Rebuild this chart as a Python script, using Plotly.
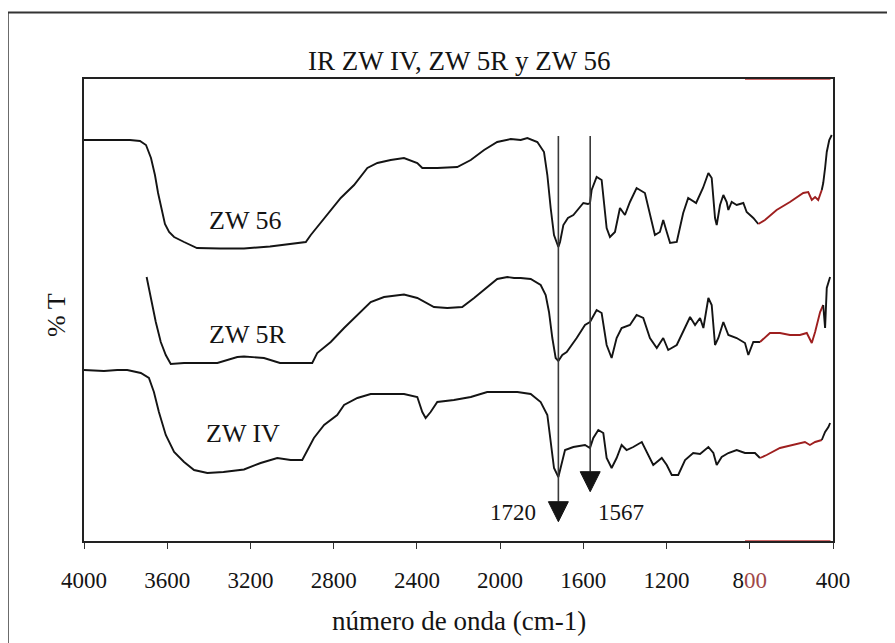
import plotly.graph_objects as go

# ---------------- data ----------------
TITLE = "IR ZW IV, ZW 5R y ZW 56"
X_TITLE = "número de onda (cm-1)"
Y_TITLE = "% T"
X_TICKS = [4000, 3600, 3200, 2800, 2400, 2000, 1600, 1200, 800, 400]
MARKED_BANDS = [1720, 1567]

wn_56 = [4000, 3779, 3731, 3702, 3678, 3659, 3644, 3625, 3611, 3591,
         3567, 3519, 3457, 3346, 3231, 3106, 2991, 2934, 2910, 2831,
         2766, 2702, 2638, 2590, 2526, 2462, 2398, 2374, 2302, 2206,
         2141, 2077, 2014, 1949, 1901, 1869, 1821, 1789, 1773, 1757,
         1741, 1720, 1712, 1696, 1674, 1648, 1600, 1578, 1568, 1560,
         1536, 1512, 1488, 1472, 1448, 1424, 1400, 1376, 1344, 1304,
         1280, 1256, 1232, 1216, 1199, 1183, 1151, 1120, 1096, 1087,
         1058, 1025, 999, 983, 967, 959, 943, 927, 911, 903,
         887, 863, 831, 815, 783, 759, 727, 671, 607, 543,
         519, 502, 486, 471, 454, 447, 438, 430, 418, 406]
t_56 = [40.1, 40.1, 40.0, 39.6, 38.3, 36.6, 34.8, 33.1, 31.7, 30.9,
        30.4, 29.9, 29.3, 29.25, 29.25, 29.45, 29.8, 29.9, 30.6, 32.6,
        34.3, 35.6, 37.3, 37.8, 38.1, 38.3, 37.8, 37.3, 37.3, 37.4,
        38.1, 39.1, 39.9, 40.2, 40.1, 40.3, 39.9, 38.9, 36.6, 33.3,
        30.6, 29.4, 29.9, 31.6, 32.3, 32.6, 33.8, 33.7, 33.8, 35.1,
        36.4, 36.1, 31.3, 30.4, 30.9, 33.3, 32.6, 33.9, 35.3, 34.8,
        32.6, 30.6, 30.9, 32.1, 30.9, 29.8, 29.9, 32.8, 34.3, 34.2,
        33.8, 35.3, 36.8, 36.3, 32.3, 31.6, 33.6, 34.6, 33.9, 33.1,
        33.9, 33.6, 33.8, 32.9, 32.3, 31.7, 32.1, 33.1, 33.9, 34.8,
        34.9, 34.1, 34.4, 34.1, 35.1, 35.8, 37.3, 38.9, 40.1, 40.6]

wn_5R = [3699, 3679, 3655, 3631, 3607, 3583, 3519, 3359, 3311, 3263,
         3231, 3186, 3135, 3058, 2986, 2903, 2879, 2814, 2750, 2686,
         2622, 2558, 2462, 2398, 2318, 2254, 2182, 2125, 2062, 2014,
         1965, 1933, 1901, 1853, 1805, 1781, 1765, 1749, 1733, 1720,
         1701, 1680, 1632, 1592, 1568, 1536, 1512, 1488, 1464, 1440,
         1416, 1376, 1344, 1312, 1280, 1247, 1216, 1192, 1151, 1103,
         1087, 1063, 1039, 1023, 999, 983, 967, 951, 927, 903,
         863, 823, 807, 783, 751, 703, 655, 607, 559, 526,
         502, 486, 462, 447, 438, 430, 414]
t_5R = [26.4, 24.3, 21.9, 19.9, 18.6, 17.7, 17.8, 17.8, 18.1, 18.4,
        18.45, 18.4, 18.3, 17.8, 17.8, 17.8, 18.8, 19.9, 21.3, 22.6,
        23.9, 24.4, 24.65, 24.3, 23.4, 23.3, 23.4, 24.3, 25.4, 26.2,
        26.4, 26.3, 26.3, 26.2, 25.6, 24.6, 22.9, 20.3, 18.3, 18.0,
        18.6, 18.9, 20.3, 21.6, 21.9, 23.1, 22.8, 19.6, 18.3, 20.3,
        21.3, 21.6, 22.6, 22.3, 20.3, 19.3, 20.3, 19.1, 19.6, 21.6,
        22.4, 21.6, 22.3, 21.3, 24.3, 23.6, 19.6, 20.3, 21.9, 20.6,
        20.3, 19.8, 18.6, 19.9, 19.9, 20.8, 20.8, 20.6, 20.6, 20.8,
        19.8, 20.9, 22.9, 23.6, 21.3, 25.3, 26.4]

wn_IV = [4000, 3904, 3840, 3792, 3727, 3688, 3664, 3640, 3607, 3567,
         3519, 3471, 3407, 3330, 3231, 3151, 3071, 3007, 2951, 2919,
         2895, 2846, 2783, 2750, 2686, 2622, 2462, 2398, 2374, 2358,
         2334, 2302, 2222, 2141, 2062, 1981, 1917, 1853, 1805, 1773,
         1757, 1741, 1720, 1707, 1688, 1648, 1592, 1568, 1552, 1528,
         1504, 1488, 1464, 1440, 1416, 1392, 1360, 1319, 1288, 1264,
         1223, 1199, 1175, 1144, 1111, 1072, 1039, 999, 975, 959,
         935, 903, 863, 823, 775, 751, 719, 655, 591, 535,
         511, 486, 454, 438, 422, 414]
t_IV = [17.1, 17.0, 17.1, 17.1, 16.8, 16.3, 14.9, 12.9, 10.6, 8.9,
        7.9, 7.1, 6.8, 6.9, 7.15, 7.8, 8.3, 8.1, 8.1, 9.3,
        10.3, 11.6, 12.6, 13.6, 14.3, 14.7, 14.7, 14.4, 12.9, 12.3,
        12.9, 13.9, 14.1, 14.4, 14.9, 14.9, 14.9, 14.7, 13.9, 12.6,
        9.9, 7.3, 6.4, 7.5, 9.1, 9.4, 9.6, 9.3, 10.3, 11.1,
        10.8, 8.3, 7.3, 8.3, 9.6, 9.1, 9.4, 9.9, 8.6, 7.6,
        8.3, 7.6, 6.6, 6.6, 8.1, 8.8, 8.7, 9.4, 8.8, 7.6,
        8.4, 8.8, 9.1, 8.8, 8.8, 8.3, 8.6, 9.3, 9.6, 9.9,
        9.6, 9.9, 10.1, 10.9, 11.4, 11.8]

SERIES = [("ZW 56", wn_56, t_56), ("ZW 5R", wn_5R, t_5R), ("ZW IV", wn_IV, t_IV)]

# ---------------- styling / layout constants ----------------
FONT = "Liberation Serif, Times New Roman, serif"
INK = "#141414"
RED = "#9e1f1f"
RED_HI, RED_LO = 745, 455          # wavenumber band that looks reddish in the scan
Y_MAX = 46.2
LABEL_POS = {"ZW 56": (3226, 32.1), "ZW 5R": (3212, 20.7), "ZW IV": (3236, 10.8)}
LINE_TOP = 40.5
ARROW = {1720: (3.93, 1.93), 1567: (6.93, 4.93)}   # base y, tip y
ARROW_HALF = 48
BAND_LABEL_SHIFT = {1720: -45, 1567: 31}
BAND_LABEL_Y = 2.9

fig = go.Figure()

for name, wn, tt in SERIES:
    i = next(k for k, w in enumerate(wn) if w < RED_HI)
    j = max(k for k, w in enumerate(wn) if w > RED_LO)
    parts = [(wn[:i], tt[:i], INK),
             (wn[i - 1:j + 2], tt[i - 1:j + 2], RED),
             (wn[j + 1:], tt[j + 1:], INK)]
    for xs, ys, col in parts:
        fig.add_trace(go.Scatter(x=xs, y=ys, mode="lines",
                                 line=dict(color=col, width=1.9),
                                 hoverinfo="skip", showlegend=False))

shapes = []
for band in MARKED_BANDS:
    base, tip = ARROW[band]
    shapes.append(dict(type="line", xref="x", yref="y", x0=band, x1=band,
                       y0=LINE_TOP, y1=base, line=dict(color="#3a3a3a", width=1.6)))
    shapes.append(dict(type="path", xref="x", yref="y",
                       path=f"M {band - ARROW_HALF},{base} L {band + ARROW_HALF},{base} L {band},{tip} Z",
                       fillcolor=INK, line=dict(color=INK, width=1)))

# outer frame of the scanned figure (left and top edges)
shapes.append(dict(type="line", xref="paper", yref="paper", x0=-0.1015, x1=-0.1015,
                   y0=-0.25, y1=1.144, line=dict(color="#333", width=1.5)))
shapes.append(dict(type="line", xref="paper", yref="paper", x0=-0.1015, x1=1.1,
                   y0=1.144, y1=1.144, line=dict(color="#333", width=2)))
# reddish tint of the scan on the frame lines
for yy in (0, Y_MAX):
    shapes.append(dict(type="line", xref="x", yref="y", x0=823, x1=412, y0=yy, y1=yy,
                       line=dict(color="#c23a3a", width=1.6), layer="above"))

annotations = []
for name, (x, y) in LABEL_POS.items():
    annotations.append(dict(x=x, y=y, xref="x", yref="y", text=name, showarrow=False,
                            font=dict(family=FONT, size=26, color=INK)))
for band in MARKED_BANDS:
    annotations.append(dict(x=band, y=BAND_LABEL_Y, xref="x", yref="y", text=str(band),
                            xshift=BAND_LABEL_SHIFT[band], showarrow=False,
                            font=dict(family=FONT, size=23, color=INK)))
annotations.append(dict(x=0.5, y=1.0385, xref="paper", yref="paper", text=TITLE,
                        showarrow=False, yanchor="middle",
                        font=dict(family=FONT, size=27, color=INK)))
annotations.append(dict(x=0.5, y=-0.173, xref="paper", yref="paper", text=X_TITLE,
                        showarrow=False, yanchor="middle",
                        font=dict(family=FONT, size=27, color=INK)))
annotations.append(dict(x=-0.037, y=0.49, xref="paper", yref="paper", text=Y_TITLE,
                        showarrow=False, textangle=-90, xanchor="center", yanchor="middle",
                        font=dict(family=FONT, size=26, color=INK)))

tick_text = [("8<span style='color:#a04848'>00</span>" if v == 800 else str(v)) for v in X_TICKS]

# the page body adds an 8 px offset; margins are shifted to compensate
fig.update_layout(
    width=895, height=643,
    margin=dict(l=76, r=70, t=71, b=110),
    paper_bgcolor="white", plot_bgcolor="white",
    shapes=shapes, annotations=annotations,
    xaxis=dict(range=[4000, 400], tickvals=X_TICKS, ticktext=tick_text,
               ticks="outside", ticklen=6, tickcolor="#333", tickwidth=1,
               showline=True, mirror=True, linecolor="#222", linewidth=1.6,
               showgrid=False, zeroline=False, ticklabelstandoff=12,
               tickfont=dict(family=FONT, size=23, color=INK)),
    yaxis=dict(range=[0, Y_MAX], showticklabels=False, ticks="",
               showline=True, mirror=True, linecolor="#222", linewidth=1.6,
               showgrid=False, zeroline=False),
)

fig.write_html("out.html")
